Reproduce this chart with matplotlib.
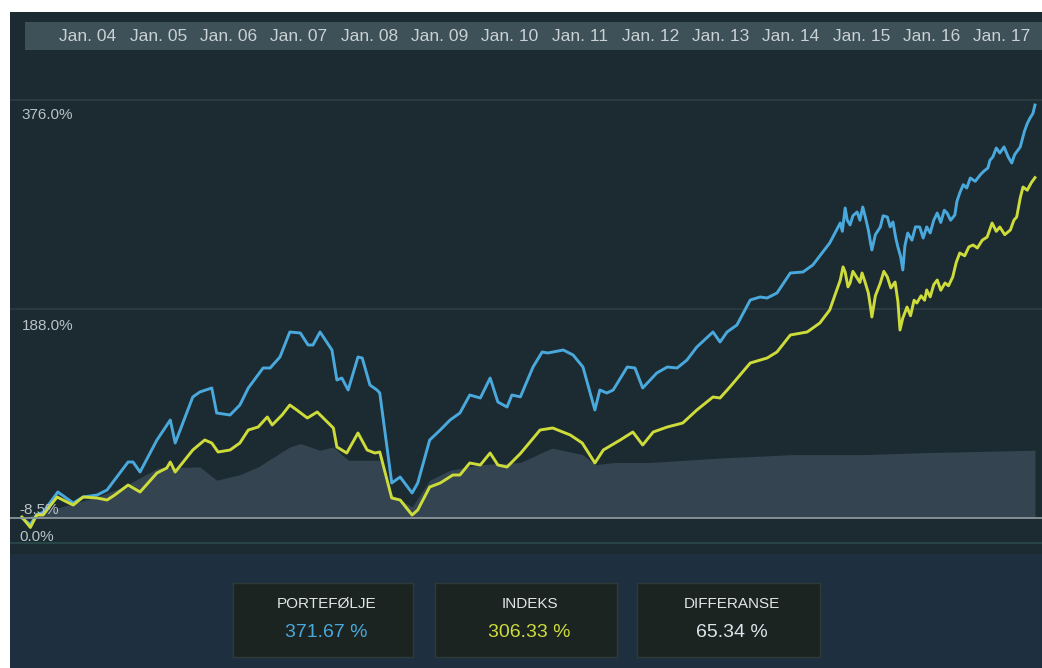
import numpy as np
import matplotlib
matplotlib.use('Agg')
import matplotlib.pyplot as plt

plt.rcParams['font.family'] = ['Liberation Sans', 'DejaVu Sans']

# portfolio (blue) cumulative return, %
port_t = [2003.06, 2003.18, 2003.27, 2003.36, 2003.57, 2003.79, 2003.93, 2004.13, 2004.27,
          2004.57, 2004.64, 2004.74, 2004.98, 2005.17, 2005.24, 2005.49, 2005.59, 2005.76,
          2005.83, 2006.02, 2006.16, 2006.28, 2006.49, 2006.59, 2006.73, 2006.87, 2007.02,
          2007.13, 2007.20, 2007.30, 2007.47, 2007.54, 2007.61, 2007.70, 2007.84, 2007.90,
          2008.01, 2008.11, 2008.15, 2008.32, 2008.44, 2008.61, 2008.69, 2008.86, 2009.01,
          2009.15, 2009.29, 2009.43, 2009.58, 2009.72, 2009.83, 2009.96, 2010.03, 2010.15,
          2010.33, 2010.46, 2010.54, 2010.76, 2010.90, 2011.04, 2011.21, 2011.28, 2011.38,
          2011.47, 2011.67, 2011.78, 2011.89, 2012.09, 2012.24, 2012.38, 2012.52, 2012.66,
          2012.89, 2012.99, 2013.09, 2013.23, 2013.42, 2013.56, 2013.66, 2013.80, 2013.99,
          2014.17, 2014.31, 2014.55, 2014.70, 2014.73, 2014.77, 2014.80, 2014.84, 2014.88,
          2014.94, 2014.98, 2015.02, 2015.06, 2015.10, 2015.13, 2015.15, 2015.20, 2015.27,
          2015.31, 2015.37, 2015.41, 2015.45, 2015.49, 2015.52, 2015.56, 2015.59, 2015.62,
          2015.66, 2015.72, 2015.77, 2015.83, 2015.88, 2015.93, 2015.98, 2016.03, 2016.08,
          2016.13, 2016.18, 2016.22, 2016.27, 2016.33, 2016.36, 2016.40, 2016.45, 2016.50,
          2016.55, 2016.62, 2016.69, 2016.74, 2016.80, 2016.83, 2016.87, 2016.92, 2016.97,
          2017.03, 2017.09, 2017.14, 2017.18, 2017.26, 2017.32, 2017.36, 2017.40, 2017.44,
          2017.47]
port_v = [0, -6, 3, 5, 23.4, 13.5, 18.9, 20.7, 25.2,
          50.4, 50.4, 41.4, 70.2, 88.2, 67.5, 108.9, 113.4, 117,
          94.5, 92.7, 101.7, 117, 135, 135, 144.9, 167.4, 166.5,
          155.7, 155.7, 167.4, 151.2, 124.2, 126, 115.2, 144.9, 144,
          119.7, 115.2, 112.5, 31.5, 36.9, 22.5, 31.5, 70.2, 79.2,
          88.2, 94.5, 110.7, 108, 126, 104.4, 99.9, 110.7, 109,
          135.9, 149.4, 148.5, 151.2, 146.7, 135.9, 97.2, 115.2, 112.5,
          115.2, 135.9, 135, 117, 130.5, 135.9, 135, 142.2, 153.9,
          167.4, 158.4, 167.4, 173.7, 196.2, 198.9, 198, 202.5, 220.5,
          221.4, 227.7, 247.5, 265.5, 258, 279, 268, 263.7, 272,
          275.4, 268, 279.9, 270, 259.2, 248, 241.2, 255, 261.9,
          272, 270.9, 262, 266.4, 252, 243.9, 235, 223.2, 245,
          256.5, 250, 262, 261.9, 252, 262, 256.5, 268, 274.5,
          266, 277, 274.5, 268, 272.7, 285, 292.5, 300, 297,
          306, 303, 308.7, 312, 315, 322, 324.9, 333, 328.5,
          334, 324.9, 319.5, 327, 333.9, 348, 355, 360, 364,
          371.67]

# index (yellow) cumulative return, %
idx_t = [2003.06, 2003.18, 2003.27, 2003.36, 2003.56, 2003.70, 2003.79, 2003.93, 2004.13,
         2004.27, 2004.38, 2004.57, 2004.74, 2004.98, 2005.12, 2005.17, 2005.24, 2005.49,
         2005.66, 2005.76, 2005.85, 2006.02, 2006.16, 2006.28, 2006.42, 2006.55, 2006.62,
         2006.76, 2006.87, 2006.97, 2007.12, 2007.26, 2007.49, 2007.54, 2007.68, 2007.84,
         2007.97, 2008.08, 2008.15, 2008.32, 2008.44, 2008.61, 2008.69, 2008.86, 2009.01,
         2009.19, 2009.29, 2009.43, 2009.58, 2009.72, 2009.83, 2009.96, 2010.15, 2010.43,
         2010.61, 2010.86, 2011.03, 2011.21, 2011.33, 2011.57, 2011.75, 2011.89, 2012.04,
         2012.24, 2012.46, 2012.66, 2012.89, 2012.99, 2013.13, 2013.42, 2013.66, 2013.80,
         2013.99, 2014.23, 2014.41, 2014.55, 2014.65, 2014.70, 2014.74, 2014.77, 2014.81,
         2014.84, 2014.88, 2014.94, 2014.98, 2015.01, 2015.05, 2015.10, 2015.13, 2015.15,
         2015.20, 2015.27, 2015.32, 2015.37, 2015.42, 2015.48, 2015.52, 2015.55, 2015.59,
         2015.65, 2015.70, 2015.75, 2015.79, 2015.85, 2015.90, 2015.93, 2015.98, 2016.03,
         2016.08, 2016.13, 2016.19, 2016.24, 2016.30, 2016.35, 2016.40, 2016.47, 2016.53,
         2016.59, 2016.65, 2016.72, 2016.79, 2016.86, 2016.92, 2016.97, 2017.04, 2017.12,
         2017.17, 2017.21, 2017.26, 2017.30, 2017.36, 2017.42, 2017.47]
idx_v = [0.9, -8.5, 2.7, 2.7, 18.9, 14.4, 11.7, 18.9, 18,
         16.2, 20.7, 29.7, 23.4, 40.5, 45, 50.4, 41.4, 61.2,
         70.2, 67.5, 59.4, 61.2, 67.5, 79.2, 81.9, 90.9, 83.7,
         92.7, 101.7, 97.2, 90, 95.4, 81, 63.9, 58.5, 76.5,
         61.2, 58.5, 59.4, 18, 16.2, 2.7, 7.2, 27.9, 31.5,
         38.7, 38.7, 49.5, 47.7, 58.5, 47.7, 45.9, 58, 79.2,
         81, 74.7, 67.5, 49.5, 61.2, 70.2, 77.4, 65.7, 77.4,
         81.9, 85.5, 97.2, 108.9, 108, 117.9, 139.5, 144, 149.4,
         164.7, 167.4, 175.5, 187.2, 205.2, 214, 226, 221.4, 208,
         211.5, 222, 216, 212, 220.5, 213, 202.5, 190, 180.9,
         200, 211.5, 222, 216.9, 207, 212.4, 195, 169.2, 180,
         189.9, 182, 196, 193.5, 200, 196, 205.2, 199, 210,
         214.2, 205, 211.5, 209, 216.9, 230, 238.5, 236, 244,
         245.7, 243, 250, 252.9, 265.5, 258, 261.9, 255, 259.2,
         268, 270.9, 288, 297.9, 295, 302, 306.33]

# shaded background series, %
area_t = [2003.06, 2004.13, 2004.50, 2005.00, 2005.59, 2005.83, 2006.16, 2006.42, 2006.87,
          2007.02, 2007.30, 2007.49, 2007.70, 2008.15, 2008.32, 2008.61, 2008.86, 2009.15,
          2009.58, 2010.15, 2010.60, 2011.04, 2011.21, 2011.50, 2012.00, 2013.00, 2014.00,
          2015.00, 2016.00, 2017.47]
area_v = [0, 19, 28, 45, 46, 34, 39, 46, 64,
          67, 61, 64, 52, 52, 21, 10, 34, 43,
          48, 50, 63, 57, 48, 50, 50, 54, 57,
          57, 59, 61]

year_labels = ['Jan. 04', 'Jan. 05', 'Jan. 06', 'Jan. 07', 'Jan. 08', 'Jan. 09', 'Jan. 10',
               'Jan. 11', 'Jan. 12', 'Jan. 13', 'Jan. 14', 'Jan. 15', 'Jan. 16', 'Jan. 17']
year_pos = list(range(2004, 2018))

grid_vals = [376.0, 188.0, 0.0]
box_titles = ['PORTEFØLJE', 'INDEKS', 'DIFFERANSE']
box_values = ['371.67 %', '306.33 %', '65.34 %']

BLUE = '#4aa9dc'
YELLOW = '#cddc3a'
BG = '#1c2a31'

W, H = 1042, 668
fig = plt.figure(figsize=(W / 100, H / 100), dpi=100, facecolor='white')
ax = fig.add_axes([10 / W, 0, 1032 / W, 656 / H])
ax.set_facecolor(BG)
ax.set_xlim(2002.89, 2017.57)
ax.set_ylim(-135, 455.4)
ax.axis('off')
ax.add_patch(plt.Rectangle((0, 0), 1, 1, transform=ax.transAxes, color=BG, zorder=0))

# lower band of the panel, a bit more blue
ax.axhspan(-135, -32, color='#1e3040', zorder=0.5, lw=0)

# date band at the top
ax.fill_between([2003.10, 2017.57], 421, 446.5, color='#3e5058', lw=0, zorder=1)
for x, lab in zip(year_pos, year_labels):
    ax.text(x, 433, lab, color='#c9d1d4', fontsize=12.5, ha='center', va='center', zorder=2)

# grid lines
ax.axhline(grid_vals[0], color='#2f3d45', lw=1.2, zorder=1)
ax.axhline(grid_vals[1], color='#2f3d45', lw=1.2, zorder=1)
ax.axhline(grid_vals[2], color='#8b969b', lw=1.3, zorder=4)
ax.axhline(-22.5, color='#2a4a4b', lw=1.2, zorder=1)

# series
ax.fill_between(area_t, 0, area_v, color='#344551', lw=0, zorder=2)
ax.plot(port_t, port_v, color=BLUE, lw=2.1, zorder=3)
ax.plot(idx_t, idx_v, color=YELLOW, lw=2.1, zorder=3.5)

# y labels
ylab_kw = dict(color='#b9c3c8', fontsize=11, ha='left', va='center', zorder=5)
ax.text(2003.06, 363, '376.0%', **ylab_kw)
ax.text(2003.06, 173, '188.0%', **ylab_kw)
ax.text(2003.03, 7, '-8.5%', **ylab_kw)
ax.text(2003.03, -17, '0.0%', **ylab_kw)

# summary boxes below the chart
box_x = [233, 435, 637]
box_w = [180, 182, 183]
val_colors = [BLUE, YELLOW, '#dce6ea']
for bx, bw, title, val, col in zip(box_x, box_w, box_titles, box_values, val_colors):
    bax = fig.add_axes([bx / W, (H - 657) / H, bw / W, 74 / H])
    bax.set_facecolor('#1b2421')
    bax.set_xticks([])
    bax.set_yticks([])
    for s in bax.spines.values():
        s.set_color('#2e3a38')
        s.set_linewidth(1)
    bax.text(0.52, 0.71, title, color='#e0e6e8', fontsize=11, ha='center', va='center',
             transform=bax.transAxes)
    bax.text(0.52, 0.33, val, color=col, fontsize=14, ha='center', va='center',
             transform=bax.transAxes)

fig.savefig('out.png', dpi=100, facecolor='white')
